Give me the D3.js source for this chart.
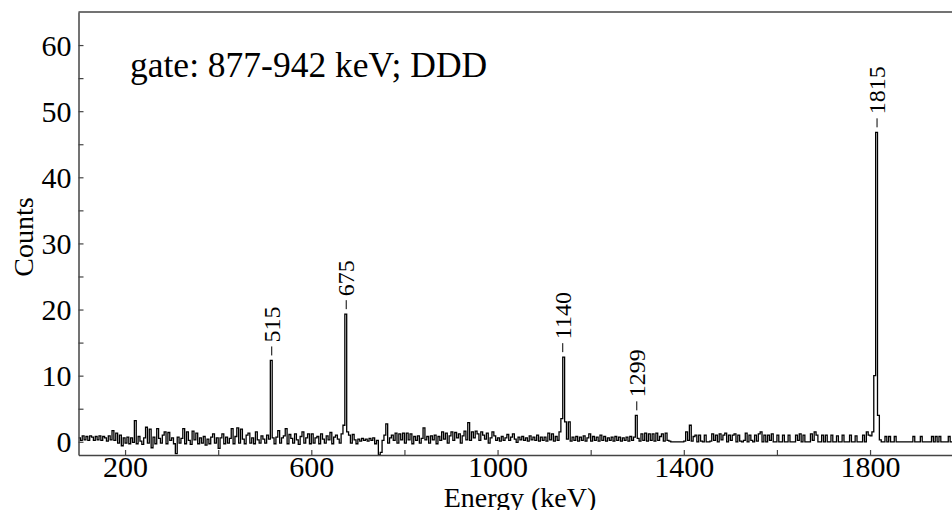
<!DOCTYPE html>
<html>
<head>
<meta charset="utf-8">
<script src="https://cdn.jsdelivr.net/npm/d3@7"></script>
<style>
  body { margin: 0; background: #fff; }
  text { font-family: "Liberation Serif", "DejaVu Serif", serif; fill: #000; }
</style>
</head>
<body>
<svg id="chart" width="952" height="510"></svg>
<script>
// spectrum: counts per 4 keV bin, each row is 100 keV (start energy in rowStart)
var binWidth = 4;
var rowStart = [100, 200, 300, 400, 500, 600, 700, 800, 900, 1000, 1100, 1200, 1300, 1400, 1500, 1600, 1700, 1800, 1900];
var rows = [
  [0.6,0.2,0.9,0.3,0.8,0.2,0.9,0.7,0.2,0.8,0.3,0.9,0.2,0.8,0.6,0.1,0.9,0.3,1.7,0.2,1.3,-0.2,1.0,-0.6,0.6],
  [-0.2,0.7,-0.3,0.6,-0.1,3.2,-0.3,0.8,0.1,-0.4,0.6,2.2,-0.2,1.9,-0.9,0.7,-0.3,2.0,0.5,-0.2,1.0,1.5,-0.3,1.4,0.2],
  [0.6,-0.3,-1.8,0.7,-0.2,0.5,2.0,-0.3,1.5,0.2,-0.4,1.6,0.3,1.3,-0.3,0.6,-0.2,0.8,-0.5,0.4,-0.3,0.7,1.2,-0.2,0.6],
  [-1.0,0.6,1.2,-0.3,0.7,-0.2,0.5,2.0,-0.3,0.8,2.1,-0.2,1.9,0.4,-0.3,1.0,1.3,-0.2,0.6,-0.3,1.5,0.3,-0.2,0.9,0.4],
  [-0.2,1.0,0.4,12.3,0.6,-0.3,0.7,1.7,-0.2,0.6,0.9,2.0,-0.3,1.1,0.5,-0.2,1.2,0.3,-0.4,0.8,1.5,-0.2,0.6,1.2,-0.3],
  [1.2,-0.2,0.6,0.8,-0.3,1.2,0.4,-0.2,0.9,0.3,1.4,-0.3,0.7,1.0,0.4,-0.2,1.2,2.5,19.3,1.5,1.0,-0.2,1.1,0.3,-0.3],
  [0.4,0.1,0.5,0.2,0.4,0.1,0.5,0.2,0.6,-0.3,0.2,-2.0,-1.6,0.2,1.0,2.7,-0.2,0.6,1.0,0.2,1.3,-0.2,1.2,0.3,1.3],
  [-0.2,1.3,0.3,1.2,-0.3,0.8,0.2,0.9,-0.2,0.5,2.1,0.3,0.8,-0.2,0.9,0.3,1.0,-0.3,0.8,0.2,1.5,0.4,1.3,-0.2,0.9],
  [1.5,0.2,1.4,0.6,1.2,-0.2,0.9,1.6,0.3,2.9,0.2,1.5,0.6,1.6,1.2,0.2,1.5,1.0,0.4,1.3,-0.2,0.6,1.5,0.9,0.2],
  [0.6,0.1,0.8,0.2,0.6,1.1,0.2,0.7,1.2,0.4,-0.1,0.7,0.3,0.8,0.2,0.6,0.1,0.9,0.3,0.7,0.2,1.0,0.1,0.7,0.2],
  [0.7,0.1,1.3,0.3,1.2,0.1,0.8,0.2,1.5,3.5,12.8,3.0,0.4,3.0,0.1,0.7,0.2,0.8,0.1,0.7,0.2,0.9,0.1,0.6,1.2],
  [0.1,0.8,0.2,0.7,0.1,1.0,0.2,0.8,0.1,0.6,0.2,0.7,0.1,0.8,0.2,0.7,0.1,0.6,0.2,0.7,0.1,0.8,0.2,0.7,4.0],
  [0.5,0.1,1.2,0.2,1.3,0.1,1.2,0.2,1.2,0.1,1.3,0.2,0.8,1.2,0.1,1.3,0.2,0.1,0,0,0,0,0,0,0],
  [0.1,1.5,0.2,2.5,0.1,0.8,1.0,0,1.0,0.1,0,1.0,0,0,0.1,1.2,0.2,1.0,0,1.2,0.3,1.0,1.3,0,1.0],
  [0.2,1.0,1.2,0,1.0,0.1,0,0.2,1.3,0,1.0,0.2,0,1.0,0.1,1.2,1.5,0,1.0,0,1.0,0.2,1.2,0,0],
  [1.0,0,0,1.0,0,0,1.0,0,0,0,1.0,0.2,1.2,0,1.0,0,0,0,1.2,0.2,1.5,1.0,0,0,1.0],
  [0,1.0,0,0,1.0,0,0,0.9,0,0,1.0,0,0,0,1.0,0,0,0.9,0,0,0,1.0,0,1.5,1.0],
  [0.9,1.5,10,46.8,4,0.3,0,0,0.8,0,0.8,0,0,0.8,0,0,0,0,0,0,0,0,0,0.8,0],
  [0,0,0.8,0,0,0,0,0,0.8,0,0.8,0,0.8,0,0,0,0,0.8,0,0,0,0,0,0,0]
];
var peakEnergies = [515, 675, 1140, 1299, 1815];
var xTicks = [200, 600, 1000, 1400, 1800];
var yTicks = [0, 10, 20, 30, 40, 50, 60];

var svg = d3.select("#chart");
var plotLeft = 78.5, plotRight = 952, plotTop = 12, plotBottom = 455;

var x = d3.scaleLinear().domain([100, 1976]).range([plotLeft, plotRight]);
var y = d3.scaleLinear().domain([-2, 65]).range([plotBottom, plotTop]);

var spectrum = [];
rows.forEach(function(r, i) {
    r.forEach(function(c, j) {
        spectrum.push({e: rowStart[i] + j * binWidth, c: c});
    });
});
spectrum.push({e: 2000, c: 0});

svg.append("clipPath").attr("id", "plotclip")
    .append("rect").attr("x", plotLeft).attr("y", plotTop)
    .attr("width", plotRight - plotLeft).attr("height", plotBottom - plotTop);

var line = d3.line().x(function(d) { return x(d.e); }).y(function(d) { return y(d.c); }).curve(d3.curveStepAfter);
svg.append("path").datum(spectrum)
    .attr("clip-path", "url(#plotclip)")
    .attr("d", line)
    .attr("fill", "none").attr("stroke", "#000").attr("stroke-width", 1.3);

// axes (ticks inward)
var xAxis = d3.axisBottom(x).tickValues(d3.range(200, 1977, 200)).tickSizeInner(-5).tickSizeOuter(0)
    .tickFormat(function(d) { return xTicks.indexOf(d) >= 0 ? d : ""; });
var gx = svg.append("g").attr("transform", "translate(0," + plotBottom + ")").call(xAxis);
gx.attr("font-size", null).attr("font-family", null);
gx.selectAll("text").attr("dy", null).attr("y", 22).style("font-size", "30px");

var yAxis = d3.axisLeft(y).tickValues(d3.range(0, 65, 5)).tickSizeInner(-5).tickSizeOuter(0)
    .tickFormat(function(d) { return yTicks.indexOf(d) >= 0 ? d : ""; });
var gy = svg.append("g").attr("transform", "translate(" + plotLeft + ",0)").call(yAxis);
gy.attr("font-size", null).attr("font-family", null);
gy.selectAll("text").attr("x", -7).attr("dy", "0.34em").style("font-size", "30px");

svg.selectAll(".domain").attr("stroke", "#444").attr("stroke-width", 1.5);
svg.selectAll(".tick line").attr("stroke", "#444").attr("stroke-width", 1.2);

svg.append("line").attr("x1", plotLeft).attr("x2", plotRight).attr("y1", plotTop).attr("y2", plotTop)
    .attr("stroke", "#444").attr("stroke-width", 1.5);

// peak labels
peakEnergies.forEach(function(pe) {
    var near = spectrum.filter(function(d) { return Math.abs(d.e + binWidth / 2 - pe) <= 4; });
    var peakTop = d3.max(near, function(d) { return d.c; });
    var px = x(pe);
    var py = y(peakTop);
    svg.append("line").attr("x1", px).attr("x2", px).attr("y1", py - 5).attr("y2", py - 14)
        .attr("stroke", "#000").attr("stroke-width", 1);
    svg.append("text").attr("transform", "translate(" + (px + 8) + "," + (py - 18) + ") rotate(-90)")
        .style("font-size", "24px").text(pe);
});

svg.append("text").attr("x", 130).attr("y", 77).style("font-size", "35.5px").text("gate: 877-942 keV; DDD");
svg.append("text").attr("x", 520).attr("y", 507).attr("text-anchor", "middle").style("font-size", "28px").text("Energy (keV)");
svg.append("text").attr("transform", "translate(33,237) rotate(-90)").attr("text-anchor", "middle")
    .style("font-size", "28px").text("Counts");
</script>
</body>
</html>
